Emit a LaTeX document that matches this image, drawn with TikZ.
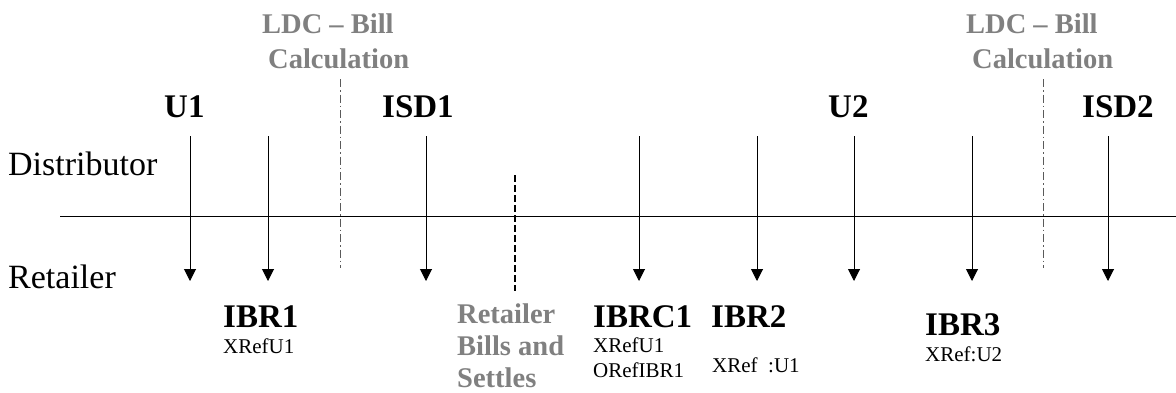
\documentclass[tikz,border=0pt]{standalone}
\usepackage{fontspec}
\setmainfont{Liberation Serif}
\usetikzlibrary{arrows.meta}
\definecolor{lblgray}{RGB}{128,128,128}
\definecolor{dashgray}{RGB}{90,90,90}
\begin{document}
\begin{tikzpicture}[x=1pt,y=-1pt,
 big/.style={font=\fontsize{33}{38}\selectfont\bfseries, anchor=base west, inner sep=0pt},
 small/.style={font=\fontsize{21}{24}\selectfont, anchor=base west, inner sep=0pt},
 lane/.style={font=\fontsize{34}{40}\selectfont, anchor=base west, inner sep=0pt},
 note/.style={font=\fontsize{28.5}{32}\selectfont\bfseries, text=lblgray, anchor=base west, inner sep=0pt},
 arr/.style={line width=1pt, -{Triangle[length=12pt,width=12pt]}},
 dashdotline/.style={line width=1pt, dashgray, dash pattern=on 8pt off 3pt on 1.5pt off 3pt},
 dashedline/.style={line width=1.2pt, dash pattern=on 7pt off 3pt}]
\useasboundingbox (0,0) rectangle (1176,392);

% timeline
\coordinate (hl) at (60,216);
\coordinate (hr) at (1176,216);
\draw[line width=1pt] (hl) -- (hr);

% lane labels
\node[lane] (dist) at (8,175) {Distributor};
\node[lane] (ret) at (8,288) {Retailer};

% arrows
\foreach \n/\x in {a1/190,a2/268,a3/426,a4/639,a5/757,a6/854,a7/972,a8/1108}{
  \coordinate (\n t) at (\x,136);
  \coordinate (\n b) at (\x,281);
  \draw[arr] (\n t) -- (\n b);
}

% dash-dot separators
\coordinate (s1t) at (340,79);  \coordinate (s1b) at (340,268);
\coordinate (s2t) at (1043,79); \coordinate (s2b) at (1043,268);
\draw[dashdotline] (s1t) -- (s1b);
\draw[dashdotline] (s2t) -- (s2b);

% dashed separator
\coordinate (s3t) at (515,175); \coordinate (s3b) at (515,291);
\draw[dashedline] (s3t) -- (s3b);

% top labels
\node[big] (u1) at (164,117) {U1};
\node[big] (isd1) at (382,117) {ISD1};
\node[big] (u2) at (828,117) {U2};
\node[big] (isd2) at (1082,117) {ISD2};

\node[note] (ldc1a) at (262,33) {LDC – Bill};
\node[note] (ldc1b) at (268,68) {Calculation};
\node[note] (ldc2a) at (966,33) {LDC – Bill};
\node[note] (ldc2b) at (972,68) {Calculation};

% bottom labels
\node[big] (ibr1) at (223,327) {IBR1};
\node[small] (ibr1x) at (223,353) {XRefU1};

\node[note] (rb1) at (457,323) {Retailer};
\node[note] (rb2) at (457,355) {Bills and};
\node[note] (rb3) at (457,387) {Settles};

\node[big] (ibrc1) at (593,327) {IBRC1};
\node[small] (ibrc1x) at (593,352) {XRefU1};
\node[small] (ibrc1o) at (593,377) {ORefIBR1};

\node[big] (ibr2) at (711,327) {IBR2};
\node[small] (ibr2x) at (712,372) {XRef\ \ :U1};

\node[big] (ibr3) at (925,335) {IBR3};
\node[small] (ibr3x) at (925,361) {XRef:U2};
\end{tikzpicture}
\end{document}
